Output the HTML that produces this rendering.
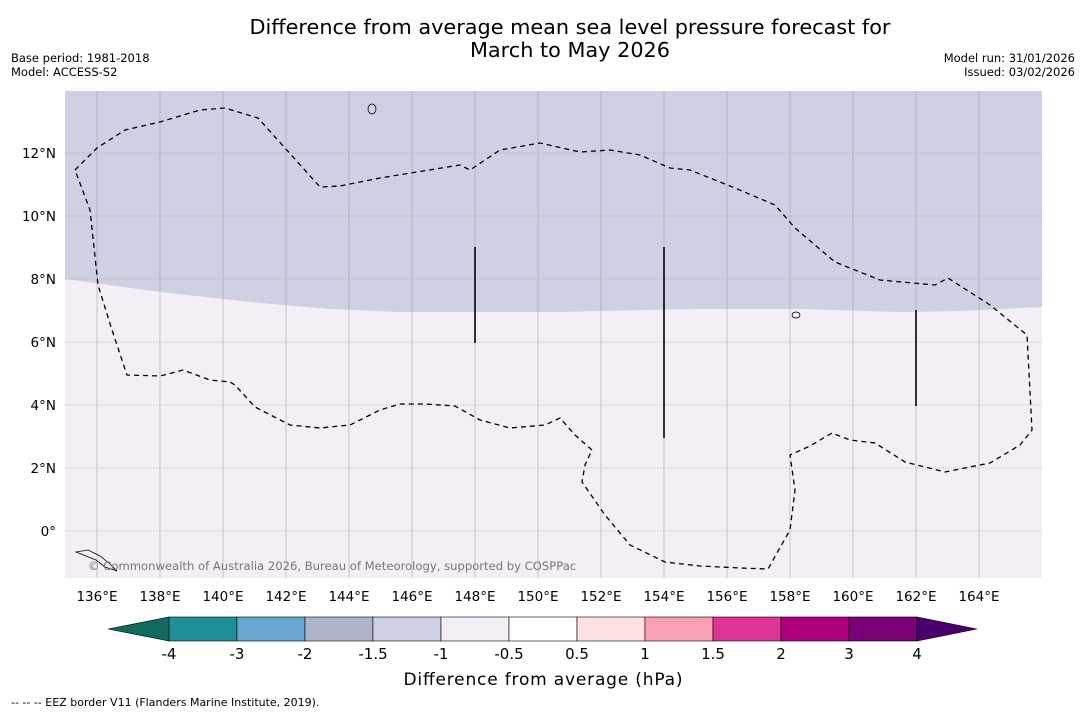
<!DOCTYPE html>
<html><head><meta charset="utf-8"><style>
body{margin:0;background:#fff;font-family:"DejaVu Sans","Liberation Sans",sans-serif;}
svg{display:block}
</style></head><body>
<svg width="1085" height="713" viewBox="0 0 1085 713">
<text x="570" y="34" text-anchor="middle" font-size="20.8">Difference from average mean sea level pressure forecast for</text>
<text x="570" y="57" text-anchor="middle" font-size="20.8">March to May 2026</text>
<text x="11" y="62" font-size="11.5">Base period: 1981-2018</text>
<text x="11" y="76" font-size="11.5">Model: ACCESS-S2</text>
<text x="1075" y="62" font-size="11.5" text-anchor="end">Model run: 31/01/2026</text>
<text x="1075" y="76" font-size="11.5" text-anchor="end">Issued: 03/02/2026</text>
<g id="map">
<rect x="65" y="91" width="977" height="487" fill="#f4eef6"/>
<path d="M65,91 L1042,91 L1042,307 L960,311 L900,312 L800,309 L700,309 L600,311 L560,312 L400,312 L330,309 L260,303 L160,292 L65,279 Z" fill="#d0d0e4"/>
<g id="grid" stroke="#999" stroke-width="0.5"></g>
<path d="M75,170 L97,148 L125,130 L160,122 L200,110 L225,108 L258,118 L320,187 L340,186 L380,178 L460,165 L470,170 L500,150 L540,143 L580,152 L610,150 L640,155 L670,168 L690,170 L735,188 L775,205 L795,228 L835,262 L880,280 L935,285 L948,278 L990,305 L1027,335 L1032,430 L1020,445 L990,463 L945,472 L905,462 L875,443 L850,440 L832,433 L810,446 L790,455 L795,490 L790,530 L768,569 L740,568 L700,566 L665,562 L630,545 L605,515 L582,482 L585,465 L592,450 L575,435 L560,418 L545,425 L510,428 L480,420 L455,406 L425,404 L400,404 L380,410 L350,425 L320,428 L290,425 L255,407 L235,385 L230,382 L210,380 L183,370 L160,376 L127,375 L112,330 L98,285 L90,210 Z" fill="none" stroke="#000" stroke-width="1.3" stroke-dasharray="5,4"/>
<g stroke="#000" stroke-width="1.6">
<line x1="475" y1="247" x2="475" y2="343"/>
<line x1="664" y1="247" x2="664" y2="438"/>
<line x1="916" y1="310" x2="916" y2="406"/>
</g>
<path d="M76,552 L86,556 L96,560 L105,567 L117,571 L110,564 L100,556 L88,550 Z" fill="none" stroke="#000" stroke-width="0.8"/>
<ellipse cx="372" cy="109" rx="4" ry="5" fill="none" stroke="#000" stroke-width="0.8"/>
<ellipse cx="796" cy="315" rx="4" ry="3" fill="none" stroke="#000" stroke-width="0.8"/>
<text x="88" y="570" font-size="11.6" fill="#777">© Commonwealth of Australia 2026, Bureau of Meteorology, supported by COSPPac</text>
</g>
<g id="axes" font-size="13.5"></g>
<g id="cbar"></g>
<text x="543" y="685" text-anchor="middle" font-size="17" textLength="279">Difference from average (hPa)</text>
<text x="11" y="706" font-size="11">--  --  -- EEZ border V11 (Flanders Marine Institute, 2019).</text>
</svg>
<script>
const lonTicks=[136,138,140,142,144,146,148,150,152,154,156,158,160,162,164];
const latTicks=[12,10,8,6,4,2,0];
const cbLevels=["-4","-3","-2","-1.5","-1","-0.5","0.5","1","1.5","2","3","4"];
const cbColors=["#1f8f97","#68a8d0","#adb3cb","#cfd0e6","#f4eef7","#ffffff","#fde0df","#f9a0b3","#dd3497","#ae017e","#7a0177"];
const ns="http://www.w3.org/2000/svg";
const xL=lon=>97+(lon-136)*31.5;
const yL=lat=>531-lat*31.5;
function mk(t,a,p){const e=document.createElementNS(ns,t);for(const k in a)e.setAttribute(k,a[k]);p.appendChild(e);return e;}
const grid=document.getElementById('grid'),axes=document.getElementById('axes');
lonTicks.forEach(l=>{
 const g=mk('line',{x1:xL(l),x2:xL(l),y1:91,y2:578},grid);
 
 
 const t=mk('text',{x:xL(l),y:601,'text-anchor':'middle'},axes);t.textContent=l+'°E';
 
 
});
latTicks.forEach(l=>{
 const g=mk('line',{x1:65,x2:1042,y1:yL(l),y2:yL(l),'stroke-dasharray':'1,1'},grid);
 
 
 const t=mk('text',{x:56,y:yL(l)+5,'text-anchor':'end'},axes);t.textContent=l===0?'0°':l+'°N';
 
 
});
const cb=document.getElementById('cbar');
const x0=169,w=68,y0=617,h=24;
const e1=mk('polygon',{points:`108,${y0+h/2} ${x0},${y0} ${x0},${y0+h}`,fill:'#0f6b5e',stroke:'#000','stroke-width':0.6},cb);


cbColors.forEach((c,i)=>{
 const r=mk('rect',{x:x0+i*w,y:y0,width:w,height:h,fill:c,stroke:'#000','stroke-width':0.6},cb);
 
 
});
const xe=x0+cbColors.length*w;
const e2=mk('polygon',{points:`${xe},${y0} ${xe},${y0+h} 977,${y0+h/2}`,fill:'#49006a',stroke:'#000','stroke-width':0.6},cb);


cbLevels.forEach((l,i)=>{
 const t=mk('text',{x:x0+i*w,y:659,'text-anchor':'middle','font-size':15},cb);t.textContent=l;
 
 
});
</script>
</body></html>
